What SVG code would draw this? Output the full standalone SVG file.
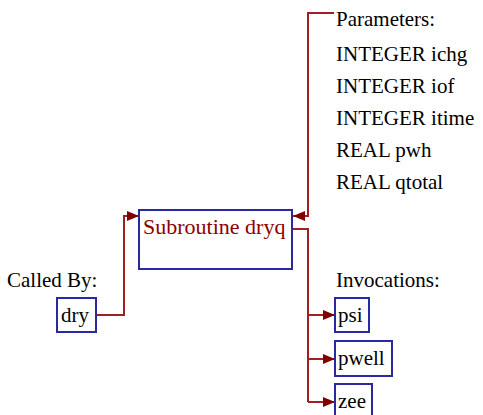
<svg xmlns="http://www.w3.org/2000/svg" width="483" height="415" viewBox="0 0 483 415">
<style>
text{font-family:"Liberation Serif","Times New Roman",serif;font-size:21px;fill:#000}
.box{fill:#fff;stroke:#2a2aa0;stroke-width:2}
.conn{fill:none;stroke:#a02020;stroke-width:2}
.title{fill:#8b0000;font-size:22px}
</style>
<defs>
<marker id="arr" viewBox="0 0 12 10" refX="12" refY="5" markerWidth="12" markerHeight="10" markerUnits="userSpaceOnUse" orient="auto">
<path d="M0,0 L12,5 L0,10 Z" fill="#800000"/>
</marker>
</defs>
<rect width="483" height="415" fill="#fff"/>
<g id="connectors">
<path class="conn" d="M97,315 H124 V216 H139" marker-end="url(#arr)"/>
<path class="conn" d="M334,13 H308 V216 H293" marker-end="url(#arr)"/>
<path class="conn" d="M293,229 H308 V402"/>
<path class="conn" d="M308,315 H335" marker-end="url(#arr)"/>
<path class="conn" d="M308,359 H335" marker-end="url(#arr)"/>
<path class="conn" d="M308,402 H335" marker-end="url(#arr)"/>
</g>
<g id="params">
<text x="336" y="26">Parameters:</text>
<text x="336" y="61">INTEGER ichg</text>
<text x="336" y="93">INTEGER iof</text>
<text x="336" y="125">INTEGER itime</text>
<text x="336" y="157">REAL pwh</text>
<text x="336" y="189">REAL qtotal</text>
</g>
<g id="main">
<rect class="box" x="139" y="210" width="153" height="59"/>
<text class="title" x="143" y="234">Subroutine dryq</text>
</g>
<text x="7" y="287">Called By:</text>
<text x="336" y="287">Invocations:</text>
<g id="dry">
<rect class="box" x="57" y="298" width="39" height="34"/>
<text x="61" y="322">dry</text>
</g>
<g id="psi">
<rect class="box" x="335" y="298" width="34" height="34"/>
<text x="338" y="322">psi</text>
</g>
<g id="pwell">
<rect class="box" x="335" y="341" width="57" height="35"/>
<text x="338" y="365">pwell</text>
</g>
<g id="zee">
<rect class="box" x="335" y="384" width="37" height="34"/>
<text x="338" y="408">zee</text>
</g>
</svg>
